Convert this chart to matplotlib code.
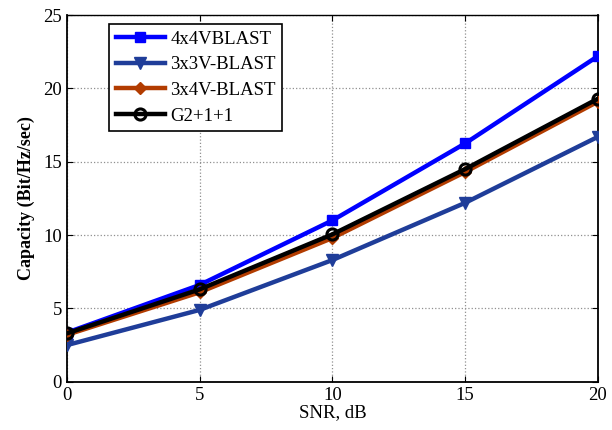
import matplotlib
matplotlib.use("Agg")
import matplotlib.pyplot as plt

snr = [0, 5, 10, 15, 20]
cap_4x4 = [3.35, 6.6, 11.0, 16.25, 22.2]
cap_3x3 = [2.5, 4.9, 8.3, 12.2, 16.7]
cap_3x4 = [3.2, 6.1, 9.8, 14.3, 19.1]
cap_g211 = [3.3, 6.3, 10.05, 14.5, 19.3]
labels = ["4x4VBLAST", "3x3V-BLAST", "3x4V-BLAST", "G2+1+1"]

plt.rcParams['font.family'] = ['Liberation Serif', 'DejaVu Serif']

fig = plt.figure(figsize=(6.12, 4.30), dpi=100)
ax = fig.add_axes([0.109, 0.112, 0.868, 0.853])

lw = 3.2
ax.plot(snr, cap_4x4, color='#0000ff', lw=lw, marker='s', ms=7, mfc='#0000ff', mec='#0000ff', label=labels[0], zorder=3)
ax.plot(snr, cap_3x3, color='#1f3d99', lw=lw, marker='v', ms=9, mfc='#1f3d99', mec='#1f3d99', label=labels[1], zorder=3)
ax.plot(snr, cap_3x4, color='#b23c00', lw=lw, marker='D', ms=6, mfc='#b23c00', mec='#b23c00', label=labels[2], zorder=3)
ax.plot(snr, cap_g211, color='black', lw=lw, marker='o', ms=8, mfc='none', mec='black', mew=2.2, label=labels[3], zorder=4)

ax.set_xlim(0, 20)
ax.set_ylim(0, 25)
ax.set_xticks([0, 5, 10, 15, 20])
ax.set_yticks([0, 5, 10, 15, 20, 25])
ax.grid(True, linestyle=':', color='#909090', lw=0.9)
ax.tick_params(direction='in', top=True, right=True, labelsize=13.5, length=4)
for s in ax.spines.values():
    s.set_linewidth(1.0)
ax.spines['left'].set_linewidth(1.3)
ax.spines['bottom'].set_linewidth(1.3)
ax.spines['right'].set_linewidth(1.3)

ax.set_xlabel('SNR, dB', fontsize=13.5, labelpad=0)
ax.set_ylabel('Capacity (Bit/Hz/sec)', fontsize=13, fontweight='bold', labelpad=6)

leg = ax.legend(loc='upper left', bbox_to_anchor=(0.080, 0.975), fontsize=13.5, fancybox=False,
                edgecolor='black', framealpha=1, handlelength=2.6, borderpad=0.35,
                labelspacing=0.45, handletextpad=0.3, borderaxespad=0)
leg.get_frame().set_linewidth(1.2)

fig.savefig('out.png', dpi=100)
